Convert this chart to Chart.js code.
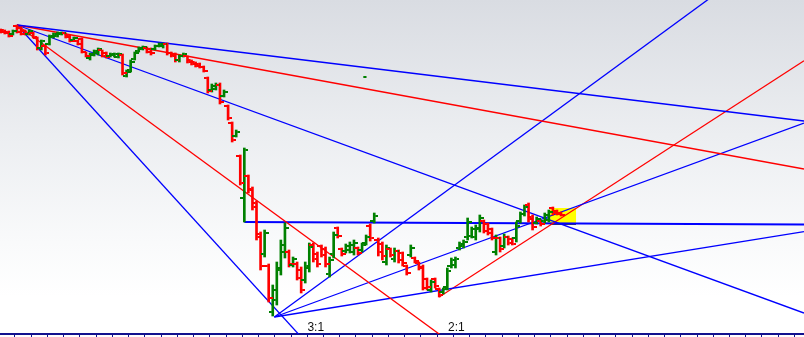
<!DOCTYPE html>
<html><head><meta charset="utf-8">
<script src="https://cdn.jsdelivr.net/npm/chart.js@4.4.1/dist/chart.umd.min.js"></script>
<style>html,body{margin:0;padding:0;background:#fff;overflow:hidden}canvas{display:block}</style>
</head><body>
<canvas id="c" width="804" height="337"></canvas>
<script>
// ---- price bars (arbitrary price units) ----
const opens = [305,304,302,300,308,306,303,300,301,296, 286,288,290,297,298,300,301,298,294,293,
 295,282,276,279,281,284,281,278,279,277, 279,258,264,275,283,285,286,285,285,288,
 288,290,281,279,274,278,278,274,272,270, 267,256,244,245,249,238,228,211,198,178,
 136,158,145,131,100,80,68,22,34,64, 82,82,69,70,64,54,66,89,80,88,
 85,60,80,106,85,83,84,82,86,84, 91,108,113,94,90,72,85,75,83,81,
 68,79,76,71,67,55,44,55,45,42, 47,68,69,86,88,97,98,97,105,113,
 110,105,82,96,88,97,95,96,113,120, 129,117,111,113,113,114,126,123,121];
const highs = [305,304,303,304,309,307,304,304,302,297, 294,289,299,301,302,302,301,299,297,294,
 296,282,281,284,286,284,282,281,281,281, 280,264,274,282,287,288,287,286,289,291,
 291,291,282,281,279,281,278,274,272,271, 268,257,250,251,251,244,229,212,204,179,
 186,159,147,133,102,104,70,49,72,94, 111,84,77,72,67,72,91,91,82,89,
 87,77,102,107,86,90,92,94,87,91, 99,110,121,96,92,89,86,86,84,82,
 69,89,77,72,69,56,54,56,46,46, 66,76,77,92,94,116,107,109,119,114,
 111,106,99,97,100,98,96,112,122,129, 131,119,117,114,121,124,127,124,122];
const lows = [301,300,297,299,301,299,299,299,296,284, 284,279,289,296,297,299,296,292,293,289,
 281,277,274,278,279,277,276,277,277,276, 259,257,262,274,282,284,281,279,284,287,
 286,279,277,272,272,277,271,269,267,266, 262,241,242,244,230,237,214,192,197,149,
 112,141,124,94,64,77,32,18,29,59, 76,67,67,54,41,51,62,72,67,77,
 67,57,76,96,78,81,81,79,79,82, 89,93,111,78,74,69,77,72,71,68,
 59,77,71,64,44,44,42,46,37,40, 44,66,66,84,86,94,96,94,102,101,
 99,94,79,82,86,89,89,92,111,118, 112,104,110,108,111,112,119,119,118];
const closes = [302,301,298,303,302,300,300,303,297,286, 293,281,298,300,301,301,297,293,296,290,
 282,278,280,283,285,278,277,280,280,280, 261,262,272,281,286,287,282,281,288,290,
 290,281,278,274,278,280,272,270,268,267, 263,243,248,249,232,242,216,194,202,151,
 184,144,127,97,68,101,36,44,66,89, 106,70,75,56,44,68,87,75,70,79,
 70,74,99,98,80,88,89,91,81,89, 97,96,118,82,78,86,79,83,74,71,
 61,86,73,66,46,47,52,48,39,45, 63,74,75,90,92,112,105,106,116,103,
 101,96,96,85,97,91,90,108,120,127, 115,107,115,110,119,122,121,120,119];
const barIndex = opens.map((_, i) => i);

// ---- drawing tools ----
const fanUnit = 1.486;                 // price per bar of the 1x1 line
const fanDownOrigin = [4, 309];        // [bar, price] top pivot
const fanDownRatios = [1/3, 1/2, 1, 2, 3];
const fanUpOrigin = [67.4, 17];        // bottom pivot
const fanUpRatios = [2, 1, 0.44];
const trendStart = [108, 37];          // secondary low
const trendSlope = 2.63;               // price per bar
const levelLine = [[60, 112], [197.85, 109.5]];
const zoneBars = [135.3, 141.7];
const zonePrices = [110, 126];
const fanLabelRatios = [3, 2];
const fanLabelTexts = ['3:1', '2:1'];
const markerPoint = [89.7, 257];
const xRange = [-0.18, 197.85];
const yRange = [0, 334];
const axisTickStart = 3.5, axisTickStep = 4;

// ---- styles ----
const GREEN = '#008000', RED = '#ff0000', BLUE = '#0000ff', NAVY = '#12128f';
const fanDownColors = [BLUE, RED, BLUE, RED, BLUE];
const fanUpColors = [BLUE, BLUE, BLUE];

function tickImg(color, side) {
  const c = document.createElement('canvas'); c.width = 8; c.height = 2;
  const g = c.getContext('2d'); g.fillStyle = color;
  if (side === 'L') g.fillRect(0, 0, 3, 2); else g.fillRect(5, 0, 3, 2);
  return c;
}
const imgs = { LG: tickImg(GREEN,'L'), LR: tickImg(RED,'L'), RG: tickImg(GREEN,'R'), RR: tickImg(RED,'R') };
const isUp = i => closes[i] >= opens[i];

function lineDs(p0, p1, color, width) {
  return { type: 'line', data: [{x: p0[0], y: p0[1]}, {x: p1[0], y: p1[1]}], borderColor: color,
    borderWidth: width, pointRadius: 0, fill: false, tension: 0, order: 5 };
}
const datasets = [];
fanDownRatios.forEach((r, k) => {
  const x1 = xRange[1];
  datasets.push(lineDs(fanDownOrigin, [x1, fanDownOrigin[1] - r * fanUnit * (x1 - fanDownOrigin[0])], fanDownColors[k], 1.3));
});
fanUpRatios.forEach((r, k) => {
  const x1 = xRange[1];
  datasets.push(lineDs(fanUpOrigin, [x1, fanUpOrigin[1] + r * fanUnit * (x1 - fanUpOrigin[0])], fanUpColors[k], 1.3));
});
datasets.push(lineDs(trendStart, [xRange[1], trendStart[1] + trendSlope * (xRange[1] - trendStart[0])], RED, 1.2));
datasets.push(lineDs(levelLine[0], levelLine[1], BLUE, 1.8));

datasets.push({ type: 'bar', data: barIndex.map(i => ({x: i, y: [lows[i], highs[i]]})),
  backgroundColor: c => isUp(c.dataIndex) ? GREEN : RED, barThickness: 2, borderWidth: 0, grouped: false, order: 1 });
datasets.push({ type: 'scatter', data: barIndex.map(i => ({x: i, y: opens[i]})),
  pointStyle: c => isUp(c.dataIndex) ? imgs.LG : imgs.LR, pointRadius: 3, order: 0 });
datasets.push({ type: 'scatter', data: barIndex.map(i => ({x: i, y: closes[i]})),
  pointStyle: c => isUp(c.dataIndex) ? imgs.RG : imgs.RR, pointRadius: 3, order: 0 });
datasets.push({ type: 'scatter', data: [{x: markerPoint[0], y: markerPoint[1]}], pointStyle: 'line',
  pointRadius: 1.6, borderColor: GREEN, pointBorderWidth: 2, order: 0 });

const bgPlugin = { id: 'bg', beforeDraw(chart) {
  const {ctx, width, height} = chart;
  const g = ctx.createLinearGradient(0, 0, 0, height);
  g.addColorStop(0, '#d9dce2'); g.addColorStop(0.4, '#eceef1'); g.addColorStop(0.72, '#f9fafb'); g.addColorStop(0.88, '#ffffff');
  ctx.save(); ctx.fillStyle = g; ctx.fillRect(0, 0, width, height); ctx.restore();
}};
const zonePlugin = { id: 'zone', beforeDatasetsDraw(chart) {
  const {ctx} = chart; const {x, y} = chart.scales;
  const x0 = x.getPixelForValue(zoneBars[0]), x1 = x.getPixelForValue(zoneBars[1]);
  const y0 = y.getPixelForValue(zonePrices[1]), y1 = y.getPixelForValue(zonePrices[0]);
  ctx.save(); ctx.fillStyle = '#ffff00'; ctx.fillRect(x0, y0, x1 - x0, y1 - y0);
  ctx.strokeStyle = '#000'; ctx.lineWidth = 1.5; ctx.beginPath(); ctx.moveTo(x0, y1); ctx.lineTo(x1, y1); ctx.stroke();
  ctx.restore();
}};
const labelPlugin = { id: 'fanLabels', afterDatasetsDraw(chart) {
  const {ctx} = chart; const {x, y} = chart.scales;
  ctx.save(); ctx.font = '12px "Liberation Sans", Arial, sans-serif'; ctx.fillStyle = '#111'; ctx.textBaseline = 'alphabetic';
  fanLabelRatios.forEach((r, k) => {
    const hit = fanDownOrigin[0] + fanDownOrigin[1] / (r * fanUnit);
    ctx.fillText(fanLabelTexts[k], x.getPixelForValue(hit) + 9, y.getPixelForValue(yRange[0]) - 3);
  });
  ctx.restore();
}};

new Chart(document.getElementById('c'), {
  type: 'scatter',
  data: { datasets },
  options: {
    responsive: false, animation: false, events: [], devicePixelRatio: 1,
    layout: { padding: 0, autoPadding: false },
    plugins: { legend: { display: false }, tooltip: { enabled: false } },
    scales: {
      x: { type: 'linear', min: xRange[0], max: xRange[1], offset: false,
        afterBuildTicks: s => { const t = []; for (let v = axisTickStart; v <= s.max; v += axisTickStep) t.push({value: v}); s.ticks = t; },
        ticks: { display: false },
        grid: { display: true, drawOnChartArea: false, drawTicks: true, tickLength: 3, color: NAVY, lineWidth: 1, offset: false },
        border: { display: true, color: NAVY, width: 2 } },
      y: { type: 'linear', min: yRange[0], max: yRange[1], display: false }
    }
  },
  plugins: [bgPlugin, zonePlugin, labelPlugin]
});
</script>
</body></html>
